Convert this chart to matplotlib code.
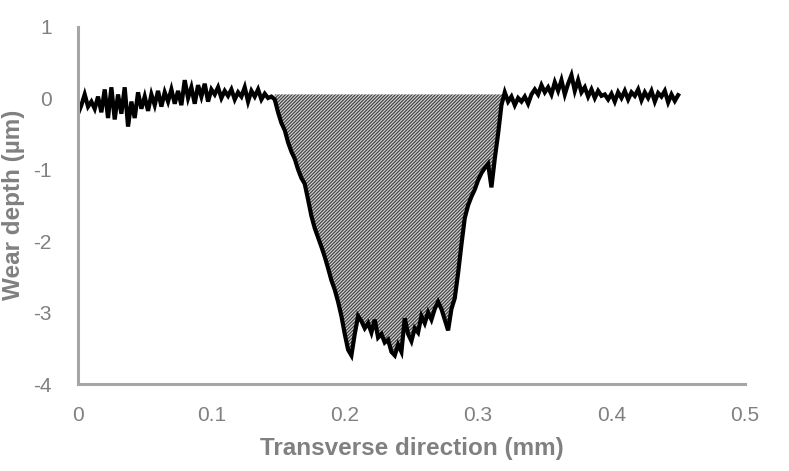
import matplotlib
matplotlib.use("Agg")
import numpy as np
import matplotlib.pyplot as plt

# 横方向位置 (mm) と摩耗深さ (µm) — 図から読み取った値
pos_mm = [
    0.000, 0.0025, 0.005, 0.0075, 0.010, 0.0125, 0.015, 0.0175, 0.020, 0.0225,
    0.025, 0.0275, 0.030, 0.0325, 0.035, 0.0375, 0.040, 0.0425, 0.045, 0.0475,
    0.050, 0.0525, 0.055, 0.0575, 0.060, 0.0625, 0.065, 0.0675, 0.070, 0.0725,
    0.075, 0.0775, 0.080, 0.0825, 0.085, 0.0875, 0.090, 0.0925, 0.095, 0.0975,
    0.100, 0.1025, 0.105, 0.1075, 0.110, 0.1125, 0.115, 0.1175, 0.120, 0.1225,
    0.125, 0.1275, 0.130, 0.1325, 0.135, 0.1375, 0.140, 0.1425, 0.145, 0.1475,
    0.150, 0.1525, 0.155, 0.1575, 0.160, 0.1625, 0.165, 0.1675, 0.170, 0.1725,
    0.175, 0.1775, 0.180, 0.1825, 0.185, 0.1875, 0.190, 0.1925, 0.195, 0.1975,
    0.200, 0.2025, 0.205, 0.2075, 0.210, 0.2125, 0.215, 0.2175, 0.220, 0.2225,
    0.225, 0.2275, 0.230, 0.2325, 0.235, 0.2375, 0.240, 0.2425, 0.245, 0.2475,
    0.250, 0.2525, 0.255, 0.2575, 0.260, 0.2625, 0.265, 0.2675, 0.270, 0.2725,
    0.275, 0.2775, 0.280, 0.2825, 0.285, 0.2875, 0.290, 0.2925, 0.295, 0.2975,
    0.300, 0.3025, 0.305, 0.3075, 0.310, 0.3125, 0.315, 0.3175, 0.320, 0.3225,
    0.325, 0.3275, 0.330, 0.3325, 0.335, 0.3375, 0.340, 0.3425, 0.345, 0.3475,
    0.350, 0.3525, 0.355, 0.3575, 0.360, 0.3625, 0.365, 0.3675, 0.370, 0.3725,
    0.375, 0.3775, 0.380, 0.3825, 0.385, 0.3875, 0.390, 0.3925, 0.395, 0.3975,
    0.400, 0.4025, 0.405, 0.4075, 0.410, 0.4125, 0.415, 0.4175, 0.420, 0.4225,
    0.425, 0.4275, 0.430, 0.4325, 0.435, 0.4375, 0.440, 0.4425, 0.445, 0.4475,
    0.450,
]
depth_um = [
    -0.22, -0.10, 0.05, -0.12, -0.05, -0.15, 0.02, -0.20, 0.12, -0.28,
    0.15, -0.30, 0.05, -0.22, 0.15, -0.40, -0.05, -0.28, 0.08, -0.15,
    0.02, -0.18, 0.05, -0.10, 0.10, -0.12, 0.08, -0.05, 0.12, -0.08,
    0.10, -0.10, 0.25, 0.00, 0.15, -0.08, 0.18, 0.02, 0.20, -0.05,
    0.12, 0.05, 0.15, 0.00, 0.10, 0.03, 0.12, -0.02, 0.08, 0.02,
    0.15, -0.05, 0.10, 0.02, 0.12, -0.02, 0.06, 0.00, 0.02, -0.02,
    -0.20, -0.35, -0.45, -0.62, -0.75, -0.85, -1.00, -1.12, -1.20, -1.42,
    -1.65, -1.82, -1.95, -2.08, -2.22, -2.38, -2.55, -2.68, -2.85, -3.05,
    -3.30, -3.52, -3.60, -3.30, -3.05, -3.12, -3.22, -3.15, -3.28, -3.10,
    -3.35, -3.30, -3.42, -3.38, -3.55, -3.60, -3.45, -3.55, -3.08, -3.30,
    -3.40, -3.22, -3.28, -3.05, -3.15, -3.00, -3.10, -2.95, -2.85, -2.95,
    -3.10, -3.25, -2.95, -2.80, -2.45, -2.05, -1.68, -1.50, -1.38, -1.28,
    -1.15, -1.05, -0.98, -0.92, -1.25, -0.85, -0.50, -0.10, 0.08, -0.05,
    0.02, -0.10, 0.00, -0.05, 0.02, -0.08, 0.05, 0.12, 0.05, 0.18,
    0.08, 0.15, 0.05, 0.22, 0.10, 0.25, 0.05, 0.20, 0.32, 0.10,
    0.25, 0.08, 0.15, 0.02, 0.12, 0.00, 0.10, 0.03, 0.05, -0.02,
    0.06, -0.05, 0.08, 0.00, 0.10, -0.02, 0.08, 0.03, 0.12, -0.03,
    0.08, 0.00, 0.10, -0.05, 0.07, 0.02, 0.10, -0.06, 0.05, -0.04,
    0.04,
]

# 摩耗痕の範囲と上端
wear_start = 0.1475
wear_end = 0.320
wear_top = 0.05

x_ticks = [0, 0.1, 0.2, 0.3, 0.4, 0.5]
x_tick_labels = ["0", "0.1", "0.2", "0.3", "0.4", "0.5"]
y_ticks = [1, 0, -1, -2, -3, -4]

plt.rcParams["axes.unicode_minus"] = False
plt.rcParams["hatch.linewidth"] = 0.9
plt.rcParams["hatch.color"] = "#444444"
font = ["Liberation Sans", "DejaVu Sans"]
gray = "#808080"

fig = plt.figure(figsize=(7.89, 4.71), dpi=100)
ax = fig.add_axes([0.0989, 0.1847, 0.8451, 0.759])

x = np.array(pos_mm)
y = np.array(depth_um)
mask = (x >= wear_start) & (x <= wear_end)
ax.fill_between(x, y, wear_top, where=mask, facecolor="#d8d8d8",
                hatch="//////////", edgecolor="#444444", linewidth=0, zorder=1)
ax.plot(x, y, color="black", linewidth=3.0, solid_joinstyle="miter", zorder=2)

ax.set_xlim(0, 0.5)
ax.set_ylim(-4, 1)
ax.set_xticks(x_ticks)
ax.set_xticklabels(x_tick_labels)
ax.set_yticks(y_ticks)

for side in ["top", "right"]:
    ax.spines[side].set_visible(False)
for side in ["left", "bottom"]:
    ax.spines[side].set_color("#a6a6a6")
    ax.spines[side].set_linewidth(2.2)

ax.tick_params(axis="both", length=0, colors=gray, labelsize=15)
ax.tick_params(axis="x", pad=16)
ax.tick_params(axis="y", pad=19)
for lab in ax.get_xticklabels() + ax.get_yticklabels():
    lab.set_family(font)

ax.set_xlabel("Transverse direction (mm)", family=font, fontsize=17.5,
              fontweight="bold", color=gray)
ax.set_ylabel("Wear depth (µm)", family=font, fontsize=17.5,
              fontweight="bold", color=gray)
ax.xaxis.set_label_coords(0.5, -0.148)
ax.yaxis.set_label_coords(-0.0795, 0.5)

fig.savefig("out.png", dpi=100)
